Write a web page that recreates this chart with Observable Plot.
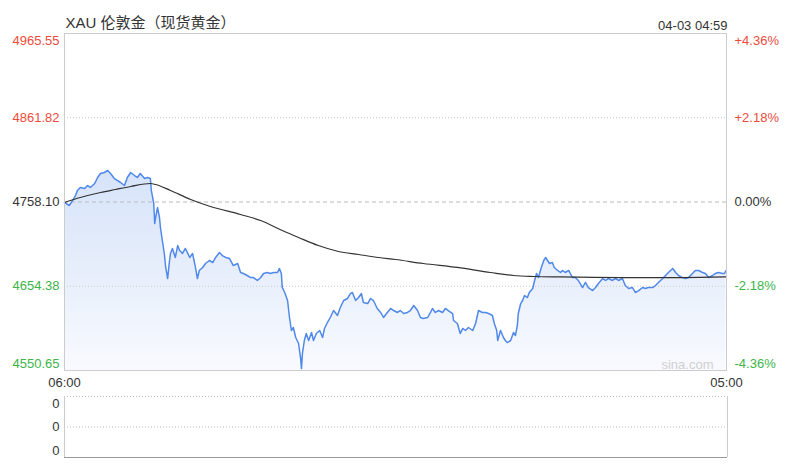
<!DOCTYPE html>
<html><head><meta charset="utf-8">
<script src="https://cdn.jsdelivr.net/npm/d3@7"></script>
<script src="https://cdn.jsdelivr.net/npm/@observablehq/plot@0.6"></script>
<style>body{margin:0;background:#fff} svg{display:block}</style>
</head><body>
<div id="chart"></div>
<script>
const title = "XAU 伦敦金（现货黄金）";
const stamp = "04-03 04:59";
const watermark = "sina.com";

// minutes after 06:00
const minutes = [
  0,10,17,23,27,33,42,48,54,63,
  69,75,83,90,96,104,110,117,125,131,
  138,146,152,158,167,173,179,181,186,188,
  190,194,198,200,204,208,211,215,219,221,
  225,231,236,240,246,252,261,267,273,277,
  281,288,294,302,309,315,323,329,336,344,
  352,361,367,373,381,388,394,402,409,415,
  423,429,436,444,448,452,454,459,465,469,
  473,477,482,488,492,494,496,500,504,509,
  515,519,525,532,538,542,548,554,561,569,
  575,582,590,596,600,607,613,619,623,632,
  638,644,652,659,665,673,680,686,694,700,
  707,715,721,728,736,742,748,757,763,767,
  773,780,788,794,800,809,811,819,825,830,
  836,842,851,857,863,871,878,884,892,896,
  901,903,909,915,919,923,930,936,940,944,
  946,951,955,959,965,969,976,980,984,988,
  994,999,1003,1007,1011,1017,1021,1028,1034,1038,
  1044,1051,1059,1065,1071,1080,1086,1092,1101,1107,
  1113,1122,1128,1134,1142,1149,1155,1163,1169,1176,
  1184,1190,1197,1205,1211,1217,1226,1232,1238,1247,
  1253,1259,1268,1274,1280,1288,1295,1301,1309,1315,
  1322,1330,1336,1343,1351,1357,1363,1372,1376,1379
];
const prices = [
  4757.5,4753.8,4760.0,4766.1,4772.3,4776.0,4774.8,4778.4,4776.0,4780.9,
  4788.3,4793.2,4794.4,4796.9,4793.2,4787.0,4784.6,4782.1,4778.4,4788.3,
  4794.4,4790.7,4788.3,4793.2,4787.0,4788.3,4787.0,4772.3,4756.3,4731.6,
  4739.0,4751.3,4739.0,4726.7,4710.7,4694.7,4677.5,4663.9,4686.1,4694.7,
  4700.9,4689.8,4704.5,4698.4,4694.7,4700.9,4689.8,4694.7,4677.5,4663.9,
  4673.8,4677.5,4682.4,4686.1,4683.6,4689.8,4695.9,4692.2,4689.8,4688.5,
  4679.9,4682.4,4671.3,4670.1,4667.6,4665.1,4665.1,4661.5,4665.1,4670.1,
  4671.3,4670.1,4671.3,4671.3,4676.2,4670.1,4652.8,4646.7,4636.8,4615.9,
  4599.9,4603.6,4591.3,4583.9,4566.6,4553.0,4571.6,4587.6,4596.2,4587.6,
  4597.4,4587.6,4596.2,4599.9,4591.3,4602.4,4609.7,4615.9,4624.5,4618.4,
  4628.2,4636.8,4639.3,4645.4,4646.7,4636.8,4640.5,4645.4,4634.4,4633.1,
  4639.3,4636.8,4627.0,4622.1,4615.9,4622.1,4627.0,4624.5,4622.1,4624.5,
  4620.8,4622.1,4624.5,4630.7,4624.5,4615.9,4614.7,4615.9,4622.1,4627.0,
  4622.1,4624.5,4622.1,4627.0,4624.5,4620.8,4612.2,4608.5,4596.2,4602.4,
  4599.9,4603.6,4599.9,4608.5,4624.5,4622.1,4622.1,4620.8,4618.4,4608.5,
  4599.9,4587.6,4599.9,4591.3,4587.6,4585.1,4587.6,4597.4,4593.7,4606.1,
  4620.8,4633.1,4636.8,4643.0,4640.5,4646.7,4651.6,4661.5,4670.1,4665.1,
  4677.5,4686.1,4689.8,4686.1,4682.4,4683.6,4677.5,4673.8,4671.3,4673.8,
  4671.3,4673.8,4665.1,4665.1,4661.5,4652.8,4659.0,4652.8,4649.1,4652.8,
  4657.8,4663.9,4661.5,4663.9,4661.5,4663.9,4661.5,4663.9,4655.3,4651.6,
  4652.8,4646.7,4649.1,4652.8,4651.6,4652.8,4652.8,4655.3,4659.0,4663.9,
  4667.6,4671.3,4676.2,4671.3,4667.6,4665.1,4663.9,4665.1,4670.1,4673.8,
  4673.8,4671.3,4670.1,4665.1,4667.6,4670.1,4671.3,4670.1,4670.1,4673.8
];
// average price line
const avgMinutes = [0,33,75,106,138,179,190,221,263,304,367,409,454,488,529,571,613,655,690,748,819,888,936,978,1034,1159,1284,1379];
const avgPrices = [4757.5,4763.6,4769.8,4773.5,4777.2,4780.9,4779.6,4772.3,4761.2,4752.6,4742.7,4735.3,4723.0,4714.4,4704.5,4697.2,4693.5,4689.8,4687.3,4682.4,4677.5,4671.3,4667.6,4666.4,4665.8,4665.1,4665.1,4665.8];

const yTicks = [4550.65, 4654.38, 4758.10, 4861.82, 4965.55];
const yTickLabels = ["4550.65", "4654.38", "4758.10", "4861.82", "4965.55"];
const pctLabels = ["-4.36%", "-2.18%", "0.00%", "+2.18%", "+4.36%"];
const xTickMinutes = [0, 1380];
const xTickLabels = ["06:00", "05:00"];
const volLevels = [0, 0.5, 1];
const volLabels = ["0", "0", "0"];

const RED = "#ec4b3c", GREEN = "#3db54a", GRAY = "#333";
const tickColors = [GREEN, GREEN, GRAY, RED, RED];
const FONT = "'Liberation Sans', Arial, 'Noto Sans CJK SC', sans-serif";

const idx = d3.range(minutes.length);
const avgIdx = d3.range(avgMinutes.length);
const tIdx = d3.range(yTicks.length);

const tickText = (filter, side, dy) => Plot.text(tIdx, {
  filter, y: i => yTicks[i],
  text: i => side === "left" ? yTickLabels[i] : pctLabels[i],
  fill: i => tickColors[i],
  frameAnchor: side, textAnchor: side === "left" ? "end" : "start",
  dx: side === "left" ? -5 : 8, dy, lineAnchor: "middle", fontSize: 13
});

const main = Plot.plot({
  width: 789, height: 390,
  marginTop: 33, marginBottom: 20, marginLeft: 64, marginRight: 63,
  x: {domain: [0, 1380], axis: null},
  y: {domain: [yTicks[0], yTicks[4]], axis: null},
  color: {type: "identity"},
  style: {fontFamily: FONT, fontSize: "13px", background: "#fff", overflow: "visible"},
  marks: [
    Plot.areaY(idx, {x: i => minutes[i], y1: yTicks[0], y2: i => prices[i], fill: "url(#areaGrad)"}),
    Plot.ruleY([yTicks[1], yTicks[3]], {stroke: "#c8c8c8", strokeDasharray: "1,2"}),
    Plot.ruleY([yTicks[2]], {stroke: "#bbb", strokeDasharray: "4,3"}),
    Plot.lineY(idx, {x: i => minutes[i], y: i => prices[i], stroke: "#5089ea", strokeWidth: 1.5}),
    Plot.line(avgIdx, {x: i => avgMinutes[i], y: i => avgPrices[i], stroke: "#333", strokeWidth: 1.2, curve: "monotone-x"}),
    Plot.frame({stroke: "#ccc"}),
    tickText(i => i === 0, "left", -7),
    tickText(i => i > 0 && i < 4, "left", 0),
    tickText(i => i === 4, "left", 7),
    tickText(i => i === 0, "right", -7),
    tickText(i => i > 0 && i < 4, "right", 0),
    tickText(i => i === 4, "right", 7),
    Plot.text([0, 1], {
      x: i => xTickMinutes[i], text: i => xTickLabels[i],
      textAnchor: i => (i === 0 ? "start" : "end"),
      frameAnchor: "bottom", dy: 12, lineAnchor: "middle", fontSize: 13, fill: GRAY
    }),
    Plot.text([title], {frameAnchor: "top-left", dx: 1, dy: -10, textAnchor: "start", lineAnchor: "middle", fontSize: 15, fill: GRAY}),
    Plot.text([stamp], {frameAnchor: "top-right", dx: 1, dy: -8, textAnchor: "end", lineAnchor: "middle", fontSize: 13, fill: GRAY}),
    Plot.text([watermark], {frameAnchor: "bottom-right", dx: -13, dy: -6, textAnchor: "end", lineAnchor: "middle", fontSize: 13, fill: "#d0d0d0"})
  ]
});

const defs = d3.select(main).insert("defs", ":first-child");
const grad = defs.append("linearGradient").attr("id", "areaGrad")
  .attr("x1", 0).attr("y1", 0).attr("x2", 0).attr("y2", 1);
grad.append("stop").attr("offset", "0%").attr("stop-color", "#d6e3f9");
grad.append("stop").attr("offset", "100%").attr("stop-color", "#f8fafe");

const vIdx = d3.range(volLevels.length);
const vol = Plot.plot({
  width: 789, height: 75,
  marginTop: 6, marginBottom: 8, marginLeft: 64, marginRight: 62,
  x: {domain: [0, 1380], axis: null},
  y: {domain: [0, 1], axis: null},
  style: {fontFamily: FONT, fontSize: "13px", background: "#fff", overflow: "visible"},
  marks: [
    Plot.ruleY([volLevels[1], volLevels[2]], {stroke: "#bbb", strokeDasharray: "1,2"}),
    Plot.ruleX([xTickMinutes[0], xTickMinutes[1]], {stroke: "#ccc"}),
    Plot.ruleY([volLevels[0]], {stroke: "#999"}),
    Plot.text(vIdx, {filter: i => i === 0, y: i => volLevels[i], text: i => volLabels[i], frameAnchor: "left", textAnchor: "end", dx: -5, dy: -7, lineAnchor: "middle", fontSize: 13, fill: GRAY}),
    Plot.text(vIdx, {filter: i => i === 1, y: i => volLevels[i], text: i => volLabels[i], frameAnchor: "left", textAnchor: "end", dx: -5, dy: 0, lineAnchor: "middle", fontSize: 13, fill: GRAY}),
    Plot.text(vIdx, {filter: i => i === 2, y: i => volLevels[i], text: i => volLabels[i], frameAnchor: "left", textAnchor: "end", dx: -5, dy: 7, lineAnchor: "middle", fontSize: 13, fill: GRAY})
  ]
});

const root = document.getElementById("chart");
root.appendChild(main);
root.appendChild(vol);
</script>
</body></html>
